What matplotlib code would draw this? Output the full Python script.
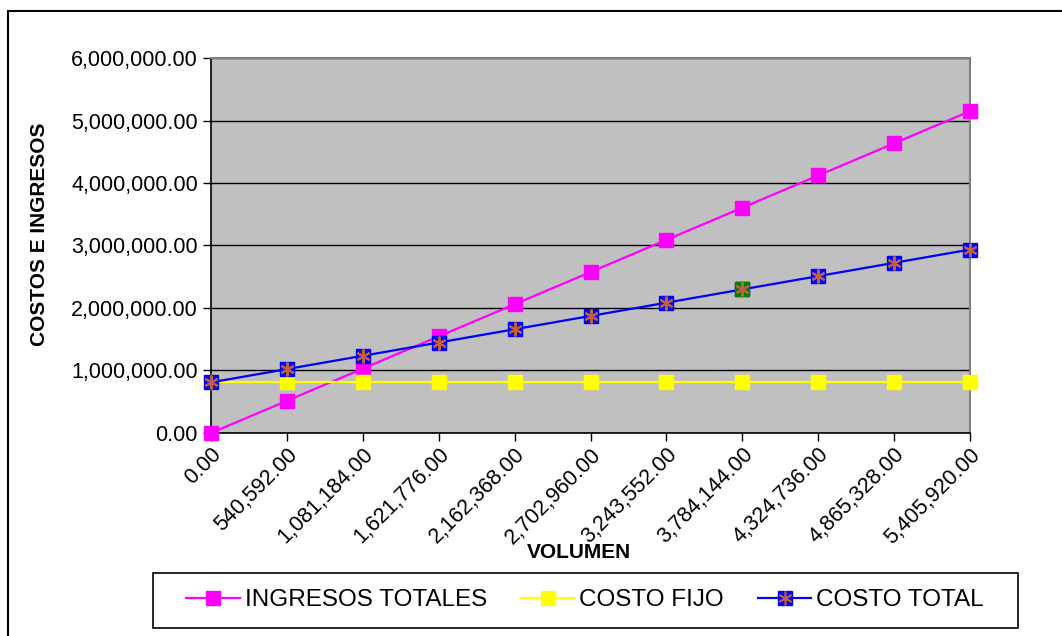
import matplotlib
matplotlib.use('Agg')
import matplotlib.pyplot as plt
from matplotlib.lines import Line2D
from matplotlib.legend_handler import HandlerTuple
from matplotlib.ticker import FuncFormatter

plt.rcParams['font.family'] = ['Liberation Sans', 'DejaVu Sans']

# ── Data ─────────────────────────────────────────────────────────────────────

volumen = [0, 540592, 1081184, 1621776, 2162368, 2702960,
           3243552, 3784144, 4324736, 4865328, 5405920]
ingresos_totales = [0, 515000, 1030000, 1545000, 2060000, 2575000,
                    3090000, 3605000, 4120000, 4635000, 5150000]
costo_fijo = [810000, 810000, 810000, 810000, 810000, 810000,
              810000, 810000, 810000, 810000, 810000]
costo_total = [810000, 1022500, 1235000, 1447500, 1660000, 1872500,
               2085000, 2297500, 2510000, 2722500, 2935000]
highlight_idx = 7

# ── Figure ───────────────────────────────────────────────────────────────────

W, H = 1062, 636
fig = plt.figure(figsize=(W / 100, H / 100), dpi=100)
ax = fig.add_axes([0.1987, 0.3192, 0.7147, 0.5896])
ax.set_facecolor('#c0c0c0')

star = (6, 2, 0)
star_color = '#c06040'

ax.plot(volumen, ingresos_totales, color='#ff00ff', linewidth=1.6,
        marker='s', markersize=10.5, markerfacecolor='#ff00ff',
        markeredgecolor='#ff00ff', zorder=3, clip_on=False)
ax.plot(volumen, costo_fijo, color='#ffff00', linewidth=1.6,
        marker='s', markersize=10.5, markerfacecolor='#ffff00',
        markeredgecolor='#ffff00', zorder=3, clip_on=False)
ax.plot(volumen, costo_total, color='#0000ff', linewidth=1.6,
        marker='s', markersize=10.5, markerfacecolor='#0000ff',
        markeredgecolor='#0000ff', zorder=4, clip_on=False)
ax.plot([volumen[highlight_idx]], [costo_total[highlight_idx]], linestyle='none',
        marker='s', markersize=10.5, markerfacecolor='#008000',
        markeredgecolor='#008000', zorder=5)
ax.plot(volumen, costo_total, linestyle='none', marker=star, markersize=10,
        markeredgecolor=star_color, markeredgewidth=1.5, zorder=6, clip_on=False)

ax.set_xlim(volumen[0], volumen[-1])
ax.set_ylim(0, 6000000)
ax.set_xticks(volumen)
ax.set_yticks([0, 1000000, 2000000, 3000000, 4000000, 5000000, 6000000])
fmt = FuncFormatter(lambda v, p: f"{v:,.2f}")
ax.xaxis.set_major_formatter(fmt)
ax.yaxis.set_major_formatter(fmt)
ax.yaxis.grid(True, color='black', linewidth=1)
ax.set_axisbelow(True)

ax.tick_params(axis='both', direction='out', length=6, width=1,
               labelsize=15.5, colors='black')
ax.tick_params(axis='x', pad=2)
for lbl in ax.get_xticklabels():
    lbl.set_rotation(45)
    lbl.set_ha('right')
    lbl.set_rotation_mode('anchor')

for side in ('top', 'right'):
    ax.spines[side].set_color('#808080')
    ax.spines[side].set_linewidth(1.5)
for side in ('left', 'bottom'):
    ax.spines[side].set_color('black')
    ax.spines[side].set_linewidth(1.2)

ax.set_ylabel('COSTOS E INGRESOS', fontsize=15, fontweight='bold')
ax.yaxis.set_label_coords(-0.2134, 0.531)
fig.text(0.545, 0.132, 'VOLUMEN', fontsize=15, fontweight='bold',
         ha='center', va='center')

# ── Legend ───────────────────────────────────────────────────────────────────

h_ing = Line2D([], [], color='#ff00ff', linewidth=1.6, marker='s', markersize=10.5,
               markerfacecolor='#ff00ff', markeredgecolor='#ff00ff')
h_fijo = Line2D([], [], color='#ffff00', linewidth=1.6, marker='s', markersize=10.5,
                markerfacecolor='#ffff00', markeredgecolor='#ffff00')
h_tot = Line2D([], [], color='#0000ff', linewidth=1.6, marker='s', markersize=10.5,
               markerfacecolor='#0000ff', markeredgecolor='#0000ff')
h_star = Line2D([], [], linestyle='none', marker=star, markersize=10,
                markeredgecolor=star_color, markeredgewidth=1.2)

leg = fig.legend([h_ing, h_fijo, (h_tot, h_star)],
                 ['INGRESOS TOTALES', 'COSTO FIJO', 'COSTO TOTAL'],
                 handler_map={tuple: HandlerTuple(ndivide=1)},
                 loc='center', bbox_to_anchor=(0.551, 1 - 600 / H), ncol=3,
                 fontsize=17.5, frameon=False,
                 handlelength=2.2, handletextpad=0.2, columnspacing=1.4,
                 borderpad=0.3, borderaxespad=0)

# legend box
fig.add_artist(plt.Rectangle((153 / W, 1 - 628 / H), 865 / W, 55 / H,
                             transform=fig.transFigure, fill=False,
                             edgecolor='black', linewidth=1.2))

# outer chart border
fig.add_artist(plt.Rectangle((8 / W, -0.01), 1.02, 0.995 - 8 / H + 0.01,
                             transform=fig.transFigure, fill=False,
                             edgecolor='black', linewidth=1.5))

fig.savefig('out.png', dpi=100)
